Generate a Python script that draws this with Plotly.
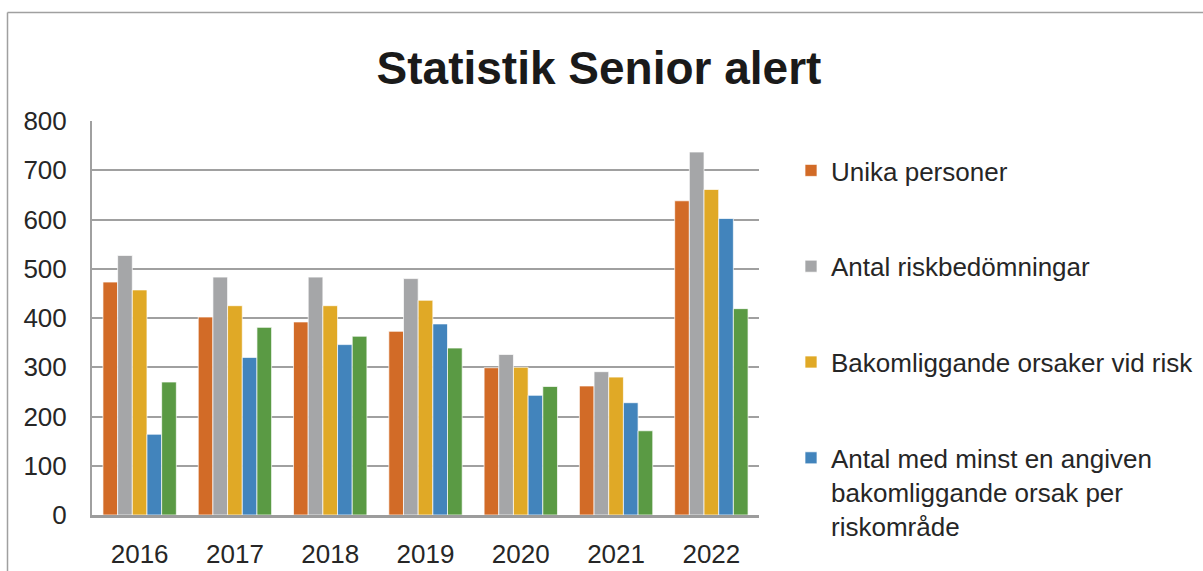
import plotly.graph_objects as go

years = ["2016", "2017", "2018", "2019", "2020", "2021", "2022"]
unika_personer = [473, 402, 392, 373, 299, 262, 638]
antal_riskbedomningar = [527, 483, 483, 480, 326, 291, 737]
bakomliggande_orsaker = [457, 425, 425, 436, 300, 280, 661]
antal_minst_en = [164, 320, 346, 388, 243, 228, 602]
femte_serie = [270, 381, 363, 339, 261, 171, 419]

series_names = [
    "Unika personer",
    "Antal riskbedömningar",
    "Bakomliggande orsaker vid risk",
    "Antal med minst en angiven<br>bakomliggande orsak per<br>riskområde",
    "",
]
series_values = [unika_personer, antal_riskbedomningar, bakomliggande_orsaker, antal_minst_en, femte_serie]
colors = ["#D26B27", "#A5A6A8", "#E0A926", "#4284BC", "#5A9A44"]

FONT = "Liberation Sans, Arial, sans-serif"
W, H = 1203, 571
L, R, T, B = 92, 444, 121, 56
pw, ph = W - L - R, H - T - B

fig = go.Figure()
for i, (name, vals, col) in enumerate(zip(series_names, series_values, colors)):
    fig.add_trace(go.Bar(
        x=years, y=vals, name=name,
        marker=dict(color=col, line=dict(color="rgba(255,255,255,0.7)", width=1)),
        legendgroup=f"g{i}",
        showlegend=(i < 4),
    ))

def px_x(p):
    return (p - L) / pw

def px_y(p):
    return (H - B - p) / ph

fig.update_layout(
    width=W, height=H,
    margin=dict(l=L, r=R, t=T, b=B, pad=0, autoexpand=False),
    paper_bgcolor="white", plot_bgcolor="white",
    barmode="group", bargap=0.23, bargroupgap=0,
    font=dict(family=FONT, size=26, color="#262626"),
    title=dict(text="<b>Statistik Senior alert</b>", x=599 / W, xref="container", xanchor="center",
               y=1 - 68 / H, yref="container", yanchor="middle",
               font=dict(family=FONT, size=46, color="#1a1a1a")),
    xaxis=dict(showgrid=False, showline=True, linecolor="#9c9c9c", linewidth=2.5,
               ticks="", tickfont=dict(size=26, color="#262626"), ticklabelstandoff=14),
    yaxis=dict(range=[0, 800], dtick=100, showgrid=True, gridcolor="#a0a0a0", gridwidth=2,
               showline=True, linecolor="#a0a0a0", linewidth=2, ticks="", zeroline=False,
               tickfont=dict(size=26, color="#262626"), ticklabelstandoff=18),
    legend=dict(x=px_x(791), xanchor="left", y=px_y(147), yanchor="top",
                font=dict(family=FONT, size=26, color="#262626"),
                tracegroupgap=59, valign="top", bgcolor="rgba(0,0,0,0)",
                maxheight=560,
                itemclick=False, itemdoubleclick=False),
    shapes=[
        dict(type="line", xref="paper", yref="paper", x0=px_x(7.5), x1=px_x(1210),
             y0=px_y(12.5), y1=px_y(12.5), line=dict(color="#a0a0a0", width=1.5)),
        dict(type="line", xref="paper", yref="paper", x0=px_x(7.5), x1=px_x(7.5),
             y0=px_y(12.5), y1=px_y(580), line=dict(color="#a0a0a0", width=1.5)),
    ],
)

fig.write_html("out.html", config={"displayModeBar": False},
               post_script="document.body.style.margin='0';")
